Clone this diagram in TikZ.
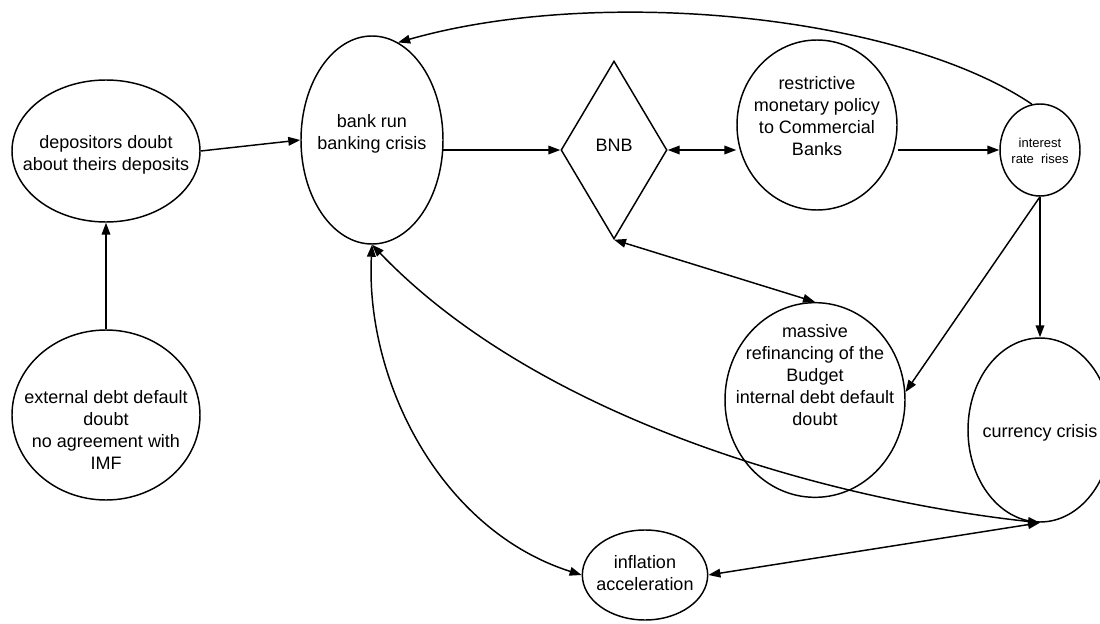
\documentclass[tikz,border=0pt]{standalone}
\usepackage{fontspec}
\setmainfont{Liberation Sans}
\usetikzlibrary{shapes.geometric,arrows.meta}
\begin{document}
\begin{tikzpicture}[x=0.75pt,y=-0.75pt,
  every node/.style={inner sep=0pt,align=center,font=\fontsize{13.5pt}{16.5pt}\selectfont},
  ell/.style={ellipse,draw,line width=1.1pt},
  con/.style={line width=1.1pt,-{Triangle[length=9pt,width=6.5pt]}},
  dcon/.style={line width=1.1pt,{Triangle[length=9pt,width=6.5pt]}-{Triangle[length=9pt,width=6.5pt]}}]
\useasboundingbox (0,0) rectangle (1100,624);
\clip (0,0) rectangle (1100,624);
\node[ell,minimum width=141pt,minimum height=106.5pt] (dep) at (106,151) {};
\node (tdep) at (106,155) {depositors doubt\\about theirs deposits};
\node[ell,minimum width=141pt,minimum height=127.5pt] (ext) at (106,415) {};
\node (text) at (106,430) {external debt default\\doubt\\no agreement with\\IMF};
\node[ell,minimum width=106.5pt,minimum height=156pt] (bank) at (372,140) {};
\node (tbank) at (372,134) {bank run\\banking crisis};
\node[diamond,draw,line width=1.1pt,minimum width=79.5pt,minimum height=133.5pt] (bnb) at (614,150) {};
\node (tbnb) at (614,145) {BNB};
\node[ell,minimum width=120pt,minimum height=127.5pt] (res) at (817,125) {};
\node (tres) at (817,116) {restrictive\\monetary policy\\to Commercial\\Banks};
\node[ell,minimum width=60pt,minimum height=69pt] (int) at (1040,150) {};
\node[font=\fontsize{9.75pt}{12pt}\selectfont] (tint) at (1040,151) {interest\\rate~ rises};
\node[ell,minimum width=135pt,minimum height=146pt] (mas) at (815,400) {};
\node (tmas) at (815,375) {massive\\refinancing of the\\Budget\\internal debt default\\doubt};
\node[ell,minimum width=108pt,minimum height=138pt] (cur) at (1040,430) {};
\node (tcur) at (1040,433) {currency crisis};
\node[ell,minimum width=94pt,minimum height=67.5pt] (inf) at (645,575) {};
\node (tinf) at (645,573) {inflation\\acceleration};

\draw[con] (dep.east) -- (bank.west);
\draw[con] (ext.north) -- (dep.south);
\draw[con] (bank.-8) -- (bnb.west |- bank.-8);
\draw[dcon] (bnb.east) -- (res.west |- bnb.east);
\draw[con] (res.east |- int.west) -- (int.west);
\draw[con] (int.100) .. controls (900,15) and (600,-15) .. (bank.75);
\draw[dcon] (bnb.south) -- (mas.north);
\draw[con] (int.south) -- (mas.5);
\draw[con] (int.south) -- (cur.north);
\draw[dcon] (bank.south) .. controls (365,380) and (440,530) .. (inf.west);
\draw[dcon] (bank.south) .. controls (540,420) and (830,500) .. (cur.south);
\draw[dcon] (inf.east) -- (cur.south);
\end{tikzpicture}
\end{document}
